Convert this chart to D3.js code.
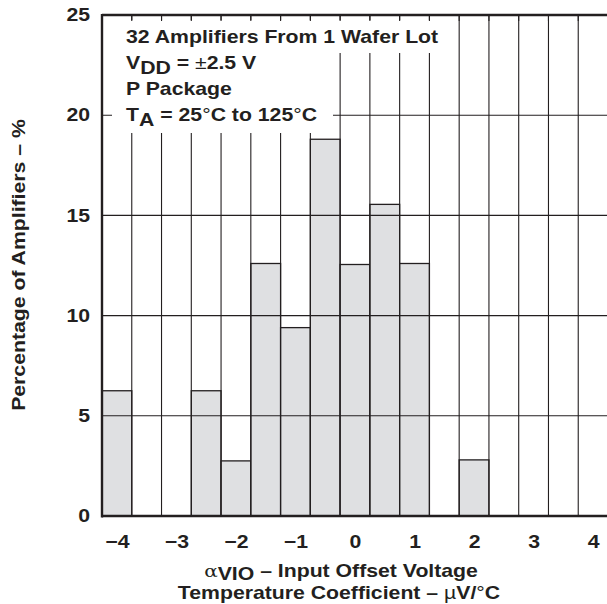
<!DOCTYPE html>
<html>
<head>
<meta charset="utf-8">
<script src="https://cdn.jsdelivr.net/npm/d3@7"></script>
<style>
  html, body { margin: 0; padding: 0; background: #fff; }
  svg { display: block; }
  text { font-family: "Liberation Sans", Arial, Helvetica, sans-serif; font-weight: bold; fill: #231f20; }
</style>
</head>
<body>
<svg id="chart" width="607" height="604"></svg>
<script>
// ---- data ----
const binCenters = [-4, -3.5, -3, -2.5, -2, -1.5, -1, -0.5, 0, 0.5, 1, 1.5, 2, 2.5, 3, 3.5, 4];
const percentages = [6.25, 0, 0, 6.25, 2.75, 12.6, 9.4, 18.8, 12.55, 15.55, 12.6, 0, 2.8, 0, 0, 0, 0];
const xTickValues = [-4, -3, -2, -1, 0, 1, 2, 3, 4];
const yTickValues = [0, 5, 10, 15, 20, 25];
const binWidth = 0.5;

(function () {
const svg = d3.select("#chart");
const pLeft = 102, pRight = 608, pTop = 15, pBottom = 516;
const ink = "#231f20";
const FS = 18, SX = 1.18;

const x = d3.scaleLinear().domain([-4.25, 4.25]).range([pLeft, pRight]);
const y = d3.scaleLinear().domain([0, 25]).range([pBottom, pTop]);

// bars
svg.append("g").selectAll("rect")
  .data(binCenters.map((c, i) => ({c, v: percentages[i]})).filter(d => d.v > 0))
  .join("rect")
  .attr("x", d => x(d.c - binWidth / 2))
  .attr("width", d => x(d.c + binWidth / 2) - x(d.c - binWidth / 2))
  .attr("y", d => y(d.v))
  .attr("height", d => y(0) - y(d.v))
  .attr("fill", "#dfe0e2")
  .attr("stroke", ink)
  .attr("stroke-width", 1.3);

// grid lines
const edges = binCenters.slice(1).map(c => c - binWidth / 2);
const grid = svg.append("g").attr("stroke", ink).attr("stroke-width", 1.1);
grid.selectAll("line.v").data(edges).join("line")
  .attr("class", "v")
  .attr("x1", d => x(d)).attr("x2", d => x(d))
  .attr("y1", y(25)).attr("y2", y(0));
grid.selectAll("line.h").data(yTickValues.filter(v => v > 0 && v < 25)).join("line")
  .attr("class", "h")
  .attr("x1", pLeft).attr("x2", pRight)
  .attr("y1", d => y(d)).attr("y2", d => y(d));

// white boxes behind annotation
svg.append("rect").attr("x", pLeft + 2).attr("y", pTop + 5).attr("width", 343).attr("height", 33).attr("fill", "#fff");
svg.append("rect").attr("x", pLeft + 10).attr("y", pTop + 37).attr("width", 221).attr("height", 81).attr("fill", "#fff");

// top inner ticks
svg.append("g").attr("stroke", ink).attr("stroke-width", 1.1)
  .selectAll("line").data(edges).join("line")
  .attr("x1", d => x(d)).attr("x2", d => x(d))
  .attr("y1", pTop).attr("y2", pTop + 6);

// frame
svg.append("line").attr("x1", pLeft).attr("x2", pLeft).attr("y1", pTop - 1).attr("y2", pBottom + 1.5)
  .attr("stroke", ink).attr("stroke-width", 2.4);
svg.append("line").attr("x1", pLeft).attr("x2", 607).attr("y1", pTop).attr("y2", pTop)
  .attr("stroke", ink).attr("stroke-width", 2.4);
svg.append("line").attr("x1", pLeft).attr("x2", 607).attr("y1", pBottom).attr("y2", pBottom)
  .attr("stroke", ink).attr("stroke-width", 2.6);

// axes labels
const fmt = v => (v < 0 ? "\u2212" + Math.abs(v) : String(v));
const xAxis = svg.append("g").attr("transform", `translate(0,${pBottom})`)
  .call(d3.axisBottom(x).tickValues(xTickValues).tickFormat(fmt).tickSize(0).tickPadding(19));
xAxis.select(".domain").remove();
xAxis.selectAll("text").attr("font-size", FS).attr("fill", ink)
  .attr("transform", `scale(${SX},1)`)
  .style("font-family", "'Liberation Sans', Arial, sans-serif").style("font-weight", "bold");

const yAxis = svg.append("g").attr("transform", `translate(${pLeft},0)`)
  .call(d3.axisLeft(y).tickValues(yTickValues).tickFormat(fmt).tickSize(0).tickPadding(12));
yAxis.select(".domain").remove();
yAxis.selectAll("text").attr("font-size", FS).attr("fill", ink)
  .attr("x", -12 / SX)
  .attr("transform", `scale(${SX},1)`)
  .style("font-family", "'Liberation Sans', Arial, sans-serif").style("font-weight", "bold");

// annotation
const ann = svg.append("g").attr("font-size", FS).attr("transform", `translate(126,0) scale(${SX},1)`);
ann.append("text").attr("x", 0).attr("y", 43).text("32 Amplifiers From 1 Wafer Lot");
const l2 = ann.append("text").attr("x", 0).attr("y", 69);
l2.append("tspan").text("V");
l2.append("tspan").attr("dy", 5).text("DD");
l2.append("tspan").attr("dy", -5).text(" = ");
l2.append("tspan").attr("font-weight", "normal").text("\u00b1");
l2.append("tspan").text("2.5 V");
ann.append("text").attr("x", 0).attr("y", 95).text("P Package");
const l4 = ann.append("text").attr("x", 0).attr("y", 121);
l4.append("tspan").text("T");
l4.append("tspan").attr("dy", 5).text("A");
l4.append("tspan").attr("dy", -5).text(" = 25");
l4.append("tspan").attr("font-weight", "normal").text("\u00b0");
l4.append("tspan").text("C to 125");
l4.append("tspan").attr("font-weight", "normal").text("\u00b0");
l4.append("tspan").text("C");

// x title
const xt1 = svg.append("g").attr("transform", `translate(341,577) scale(${SX},1)`)
  .append("text").attr("text-anchor", "middle").attr("font-size", FS);
xt1.append("tspan").attr("font-weight", "normal").attr("font-family", "'DejaVu Serif', serif").attr("font-size", 17).text("\u03b1");
xt1.append("tspan").attr("dy", 3).text("VIO");
xt1.append("tspan").attr("dy", -3).text(" \u2013 Input Offset Voltage");
const xt2 = svg.append("g").attr("transform", `translate(339,599) scale(${SX},1)`)
  .append("text").attr("text-anchor", "middle").attr("font-size", FS);
xt2.append("tspan").text("Temperature Coefficient \u2013 ");
xt2.append("tspan").attr("font-weight", "normal").text("\u00b5");
xt2.append("tspan").text("V/");
xt2.append("tspan").attr("font-weight", "normal").text("\u00b0");
xt2.append("tspan").text("C");

// y title
svg.append("text").attr("transform", `translate(25,265) rotate(-90) scale(${SX},1)`)
  .attr("text-anchor", "middle").attr("font-size", FS)
  .text("Percentage of Amplifiers \u2013 %");
})();
</script>
</body>
</html>
